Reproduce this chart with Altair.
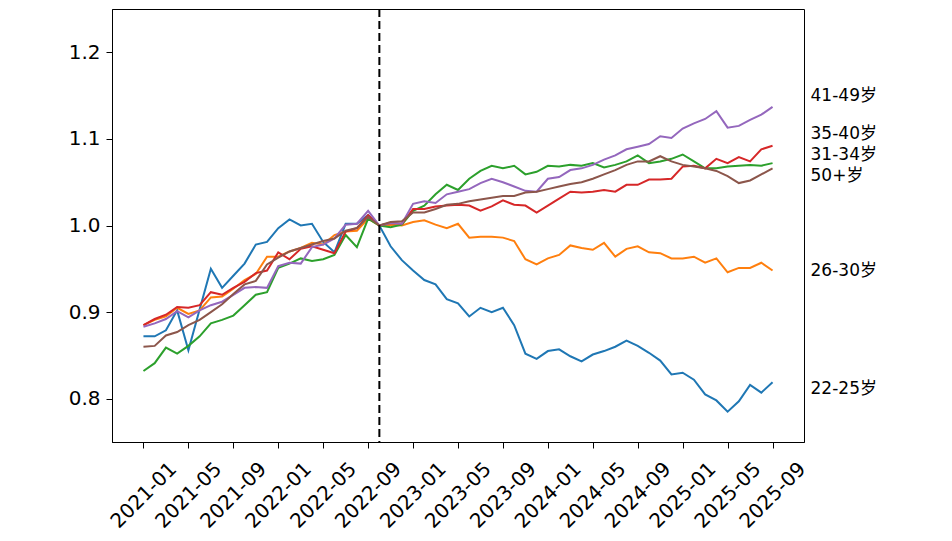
import altair as alt
import pandas as pd

# Monthly periods 2021-01 .. 2025-09
months = [f"{y}-{m:02d}" for y in range(2021, 2026) for m in range(1, 13)][:57]

groups = ["22-25岁", "26-30岁", "31-34岁", "35-40岁", "41-49岁", "50+岁"]
colors = ["#1f77b4", "#ff7f0e", "#2ca02c", "#d62728", "#9467bd", "#8c564b"]

s_22_25 = [0.872, 0.872, 0.879, 0.902, 0.856, 0.903, 0.950, 0.928, 0.942, 0.956,
           0.978, 0.981, 0.997, 1.007, 1.000, 1.002, 0.981, 0.969, 1.002, 1.002,
           1.012, 1.000, 0.976, 0.960, 0.948, 0.937, 0.932, 0.915, 0.910, 0.895,
           0.905, 0.900, 0.905, 0.885, 0.852, 0.846, 0.855, 0.857, 0.849, 0.843,
           0.851, 0.855, 0.860, 0.867, 0.861, 0.853, 0.844, 0.828, 0.830, 0.822,
           0.805, 0.798, 0.785, 0.797, 0.816, 0.807, 0.819]
s_26_30 = [0.885, 0.891, 0.895, 0.905, 0.898, 0.902, 0.917, 0.918, 0.927, 0.937,
           0.944, 0.964, 0.964, 0.970, 0.974, 0.980, 0.978, 0.989, 0.993, 0.994,
           1.008, 1.000, 1.001, 1.000, 1.004, 1.006, 1.001, 0.997, 1.002, 0.986,
           0.987, 0.987, 0.986, 0.982, 0.961, 0.955, 0.962, 0.966, 0.977, 0.974,
           0.972, 0.980, 0.964, 0.973, 0.976, 0.969, 0.968, 0.962, 0.962, 0.964,
           0.957, 0.962, 0.946, 0.951, 0.951, 0.957, 0.948]
s_31_34 = [0.832, 0.841, 0.859, 0.852, 0.861, 0.872, 0.887, 0.891, 0.896, 0.908,
           0.920, 0.923, 0.951, 0.956, 0.962, 0.959, 0.961, 0.966, 0.989, 0.975,
           1.008, 1.000, 0.998, 1.001, 1.017, 1.023, 1.036, 1.047, 1.041, 1.054,
           1.063, 1.069, 1.066, 1.069, 1.059, 1.062, 1.069, 1.068, 1.070, 1.069,
           1.072, 1.067, 1.070, 1.074, 1.081, 1.072, 1.074, 1.077, 1.082, 1.074,
           1.066, 1.066, 1.068, 1.069, 1.070, 1.069, 1.072]
s_35_40 = [0.885, 0.892, 0.897, 0.906, 0.905, 0.908, 0.923, 0.920, 0.928, 0.935,
           0.945, 0.948, 0.969, 0.961, 0.973, 0.976, 0.972, 0.968, 0.993, 0.997,
           1.012, 1.000, 1.003, 1.002, 1.019, 1.019, 1.022, 1.023, 1.024, 1.023,
           1.017, 1.022, 1.029, 1.024, 1.023, 1.015, 1.023, 1.031, 1.039, 1.038,
           1.039, 1.041, 1.039, 1.047, 1.047, 1.053, 1.053, 1.054, 1.068, 1.069,
           1.066, 1.077, 1.072, 1.079, 1.074, 1.088, 1.092]
s_41_49 = [0.883, 0.887, 0.892, 0.901, 0.894, 0.902, 0.908, 0.912, 0.920, 0.928,
           0.929, 0.928, 0.953, 0.957, 0.956, 0.975, 0.978, 0.985, 1.001, 1.002,
           1.017, 1.000, 1.003, 1.002, 1.025, 1.028, 1.026, 1.036, 1.039, 1.042,
           1.049, 1.054, 1.050, 1.045, 1.040, 1.039, 1.054, 1.056, 1.064, 1.066,
           1.070, 1.076, 1.081, 1.088, 1.091, 1.094, 1.103, 1.101, 1.112, 1.118,
           1.123, 1.132, 1.113, 1.115, 1.122, 1.128, 1.137]
s_50p = [0.860, 0.861, 0.873, 0.877, 0.885, 0.891, 0.900, 0.909, 0.921, 0.932,
         0.936, 0.955, 0.963, 0.970, 0.974, 0.978, 0.982, 0.985, 0.994, 0.997,
         1.010, 1.000, 1.004, 1.005, 1.015, 1.015, 1.019, 1.024, 1.025, 1.028,
         1.030, 1.032, 1.034, 1.034, 1.038, 1.039, 1.042, 1.045, 1.048, 1.050,
         1.054, 1.059, 1.064, 1.070, 1.074, 1.074, 1.080, 1.074, 1.070, 1.068,
         1.066, 1.063, 1.057, 1.049, 1.052, 1.059, 1.066]

series = [s_22_25, s_26_30, s_31_34, s_35_40, s_41_49, s_50p]

tick_labels = ["2021-01", "2021-05", "2021-09", "2022-01", "2022-05", "2022-09",
               "2023-01", "2023-05", "2023-09", "2024-01", "2024-05", "2024-09",
               "2025-01", "2025-05", "2025-09"]
tick_idx = [months.index(t) for t in tick_labels]
y_ticks = [0.8, 0.9, 1.0, 1.1, 1.2]

cutoff = months.index("2022-10")

label_names = ["41-49岁", "35-40岁", "31-34岁", "50+岁", "26-30岁", "22-25岁"]
label_y = [1.150, 1.106, 1.081, 1.057, 0.947, 0.811]

rows = []
for g, vals in zip(groups, series):
    for i, v in enumerate(vals):
        rows.append({"idx": i, "month": months[i], "value": v, "group": g})
df = pd.DataFrame(rows)

lab_df = pd.DataFrame({"name": label_names, "y": label_y,
                       "idx": [len(months) - 1] * len(label_names)})
cut_df = pd.DataFrame({"idx": [cutoff]})

n = len(months) - 1
xscale = alt.Scale(domain=[-0.05 * n, n * 1.05], nice=False, zero=False)
yscale = alt.Scale(domain=[0.75, 1.25], nice=False, zero=False)

arr = "[" + ",".join(f"'{t}'" for t in tick_labels) + "]"
label_expr = f"{arr}[round(datum.value / 4)]"

lines = alt.Chart(df).mark_line(strokeWidth=2).encode(
    x=alt.X("idx:Q", scale=xscale,
            axis=alt.Axis(values=tick_idx, labelExpr=label_expr, title=None,
                          labelAngle=-45, labelAlign="center", labelBaseline="middle",
                          labelPadding=47, grid=False, labelOverlap=False,
                          labelFlush=False)),
    y=alt.Y("value:Q", scale=yscale,
            axis=alt.Axis(values=y_ticks, format=".1f", title=None, grid=False,
                          labelPadding=6)),
    color=alt.Color("group:N", scale=alt.Scale(domain=groups, range=colors),
                    legend=None),
    detail="group:N",
)

rule = alt.Chart(cut_df).mark_rule(color="black", strokeWidth=2,
                                   strokeDash=[8, 4]).encode(
    x=alt.X("idx:Q", scale=xscale)
)

labels = alt.Chart(lab_df).mark_text(
    align="left", baseline="middle", dx=38, fontSize=17, color="black",
    font="DejaVu Sans, Noto Sans CJK SC"
).encode(
    x=alt.X("idx:Q", scale=xscale),
    y=alt.Y("y:Q", scale=yscale),
    text="name:N",
)

chart = alt.layer(lines, rule, labels).properties(
    width=692, height=433,
    autosize=alt.AutoSizeParams(type="none"),
    padding={"left": 104, "top": 1, "right": 130, "bottom": 100},
).configure_view(
    stroke="black", strokeWidth=1, clip=False
).configure_axis(
    labelFont="DejaVu Sans", labelFontSize=20, labelColor="black",
    tickColor="black", tickSize=6, domainColor="black", domainWidth=1,
    tickWidth=1
)

chart.save("out.html", embed_options={"renderer": "svg", "actions": False})
